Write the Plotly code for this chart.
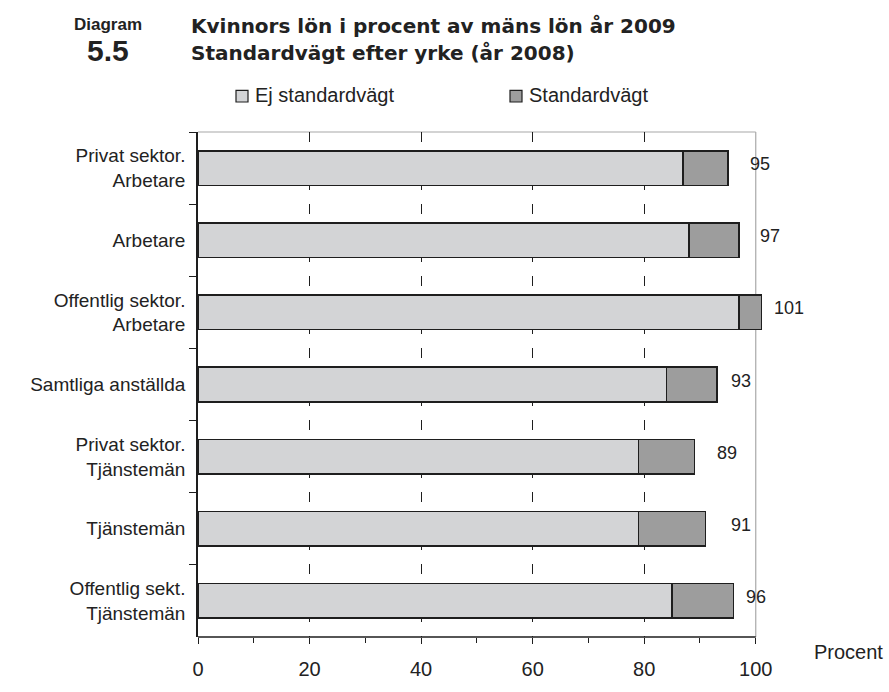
import plotly.graph_objects as go

# Data
categories = [
    "Privat sektor.<br>Arbetare",
    "Arbetare",
    "Offentlig sektor.<br>Arbetare",
    "Samtliga anställda",
    "Privat sektor.<br>Tjänstemän",
    "Tjänstemän",
    "Offentlig sekt.<br>Tjänstemän",
]
ej_standardvagt = [87, 88, 97, 84, 79, 79, 85]
standardvagt = [95, 97, 101, 93, 89, 91, 96]
series_names = ["Ej standardvägt", "Standardvägt"]
grid_ticks = [20, 40, 60, 80]

# stacked: the dark part is the difference up to the standardised value
diff = [s - e for s, e in zip(standardvagt, ej_standardvagt)]

LIGHT = "#d3d4d6"
DARK = "#9d9d9d"
EDGE = "#1e1e1e"
FRAME = "#a8a8a8"
FONT = "Liberation Sans, Arial, sans-serif"

W, H = 889, 692
L, R, T, B = 198, 763, 132, 654   # plot area in pixels
XMAX = 101.3


def px(x):
    return (x - L) / (R - L)


def py(y):
    return (B - y) / (B - T)


fig = go.Figure()
fig.add_trace(go.Bar(
    y=categories, x=ej_standardvagt, orientation="h", name=series_names[0],
    marker=dict(color=LIGHT, line=dict(color=EDGE, width=1.6)),
    width=0.48, showlegend=False,
))
fig.add_trace(go.Bar(
    y=categories, x=diff, orientation="h", name=series_names[1],
    marker=dict(color=DARK, line=dict(color=EDGE, width=1.6)),
    width=0.48, showlegend=False,
))
# empty trace so the overlaying grid axis gets drawn
fig.add_trace(go.Scatter(x=[], y=[], xaxis="x2", showlegend=False, hoverinfo="skip"))

# value labels to the right of each bar
label_shift = [20, 19, 11, 12, 21, 23, 11]
for cat, val, sh in zip(categories, standardvagt, label_shift):
    fig.add_annotation(x=val, y=cat, text=str(val), showarrow=False,
                       xanchor="left", xshift=sh, yshift=4,
                       font=dict(size=18, color="#222"))

# gray frame on top / right, black bottom axis line up to 100
fig.add_shape(type="line", xref="x", yref="y domain", x0=0, x1=100, y0=1, y1=1,
              line=dict(color=FRAME, width=1.2), layer="below")
fig.add_shape(type="line", xref="x", yref="y domain", x0=100, x1=100, y0=0, y1=1,
              line=dict(color=FRAME, width=1.2), layer="below")
fig.add_shape(type="line", xref="x", yref="y domain", x0=0, x1=100, y0=0, y1=0,
              line=dict(color=EDGE, width=1.5), layer="above")

# legend drawn by hand (small squares + text)
legend_sq = [242, 516]
legend_colors = [LIGHT, DARK]
for cx, name, col in zip(legend_sq, series_names, legend_colors):
    fig.add_shape(type="rect", xref="paper", yref="paper",
                  x0=px(cx - 6), x1=px(cx + 6), y0=py(101), y1=py(89),
                  fillcolor=col, line=dict(color=EDGE, width=1.2))
    fig.add_annotation(xref="paper", yref="paper", x=px(cx + 11), y=py(94), text=name,
                       showarrow=False, xanchor="left", yanchor="middle",
                       font=dict(size=20, color="#222"))

# header
fig.add_annotation(xref="paper", yref="paper", x=px(108), y=py(21), text="<b>Diagram</b>",
                   showarrow=False, xanchor="center", yanchor="middle",
                   font=dict(size=17, color="#222"))
fig.add_annotation(xref="paper", yref="paper", x=px(108), y=py(48), text="<b>5.5</b>",
                   showarrow=False, xanchor="center", yanchor="middle",
                   font=dict(size=30, color="#222"))
title_font = dict(family="DejaVu Sans, Liberation Sans, sans-serif", size=20, color="#222")
fig.add_annotation(xref="paper", yref="paper", x=px(189), y=py(22),
                   text="<b>Kvinnors lön i procent av mäns lön år 2009</b>",
                   showarrow=False, xanchor="left", yanchor="middle", font=title_font)
fig.add_annotation(xref="paper", yref="paper", x=px(189), y=py(50),
                   text="<b>Standardvägt efter yrke (år 2008)</b>",
                   showarrow=False, xanchor="left", yanchor="middle", font=title_font)
fig.add_annotation(xref="paper", yref="paper", x=px(812), y=py(670), text="Procent",
                   showarrow=False, xanchor="left", yanchor="middle",
                   font=dict(size=20, color="#222"))

fig.update_layout(
    width=W, height=H,
    margin=dict(l=L, r=W - R, t=T, b=H - B),
    barmode="stack",
    plot_bgcolor="white", paper_bgcolor="white",
    font=dict(family=FONT, color="#222"),
    showlegend=False,
    xaxis=dict(
        range=[0, XMAX], tick0=0, dtick=20, ticks="outside", ticklen=6,
        tickcolor=EDGE, tickwidth=1.2, showline=False, showgrid=False, zeroline=False,
        minor=dict(tick0=0, dtick=10, ticks="outside", ticklen=5, tickcolor=EDGE,
                   tickwidth=1.2, showgrid=False),
        tickfont=dict(size=20), ticklabelstandoff=8,
    ),
    xaxis2=dict(
        overlaying="x", matches="x", anchor="y", side="bottom",
        tickmode="array", tickvals=grid_ticks, showticklabels=False, ticks="",
        showgrid=True, gridcolor=EDGE, griddash="10px,14px", gridwidth=1,
        showline=False, zeroline=False,
    ),
    yaxis=dict(
        autorange="reversed", ticks="outside", ticklen=7, tickcolor=EDGE, tickwidth=1.2,
        tickson="boundaries", showline=True, linecolor=EDGE, linewidth=1.5,
        showgrid=False, zeroline=False, tickfont=dict(size=19), ticklabelstandoff=7,
    ),
)

# page body has a default margin; drop it so the figure starts at the top-left corner
fig.write_html("out.html", config={"displayModeBar": False},
               post_script="document.body.style.margin='0px';")
